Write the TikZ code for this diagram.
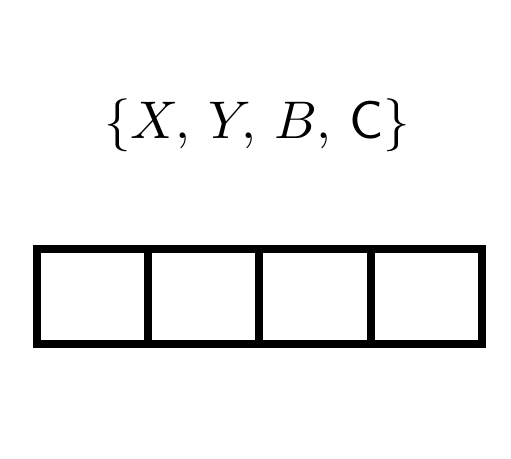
\documentclass[tikz,border=0pt]{standalone}
\usepackage{amsmath,amssymb}
\usepackage{graphicx}
\usepackage{tikz}
\usetikzlibrary{positioning}

\begin{document}
\begin{tikzpicture}[
x=1pt, y=-1pt,
node distance=0pt,
cell/.style={draw=black, line width=8pt, outer sep=0pt, minimum width=111.25pt, minimum height=95pt, inner sep=0pt},
settext/.style={inner sep=0pt}
]
\useasboundingbox (0,0) rectangle (511,458);
\node[settext] (set) at (257,125) {\scalebox{5.3}{$\{X,\,Y,\,B,\,\mathsf{C}\}$}};
\node[cell] (c1) at (92.6,296.5) {};
\node[cell, right=of c1] (c2) {};
\node[cell, right=of c2] (c3) {};
\node[cell, right=of c3] (c4) {};
\end{tikzpicture}
\end{document}
